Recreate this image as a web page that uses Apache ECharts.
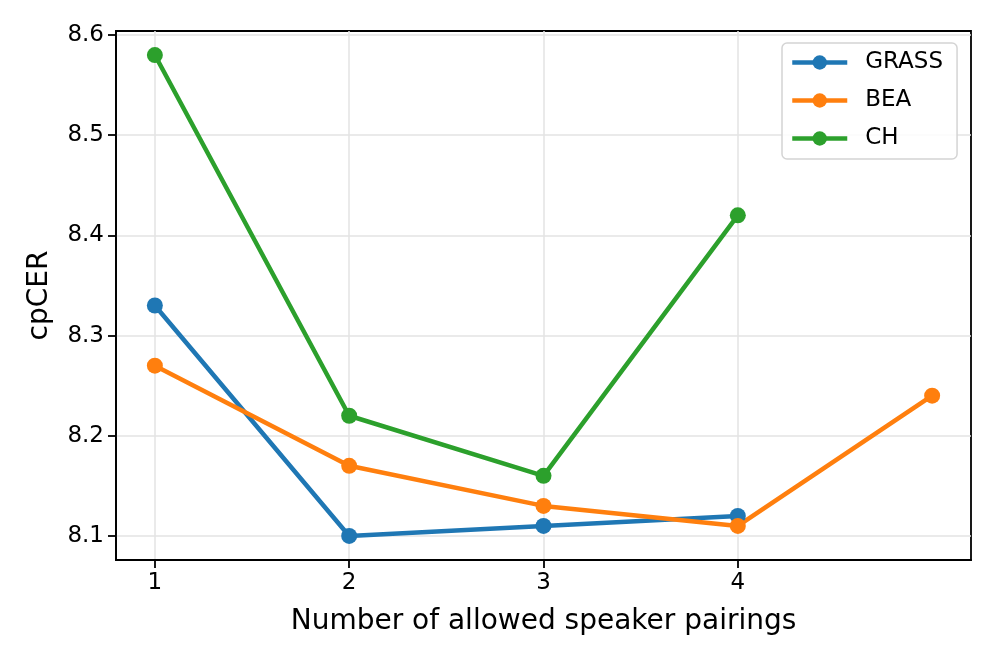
<!DOCTYPE html>
<html>
<head>
<meta charset="utf-8">
<script src="https://cdn.jsdelivr.net/npm/echarts@6/dist/echarts.min.js"></script>
<style>
  html, body { margin: 0; padding: 0; background: #fff; }
  #chart { width: 996px; height: 664px; }
</style>
</head>
<body>
<div id="chart"></div>
<script>
const pairings = [1, 2, 3, 4, 5]
const xTicks = [1, 2, 3, 4]
const yTicks = [8.1, 8.2, 8.3, 8.4, 8.5, 8.6]

const grass = [8.33, 8.10, 8.11, 8.12]
const bea = [8.27, 8.17, 8.13, 8.11, 8.24]
const ch = [8.58, 8.22, 8.16, 8.42]

const font = 'DejaVu Sans'

function makeSeries(name, values, color) {
  return {
    name,
    type: 'line',
    data: values.map((v, i) => [pairings[i], v]),
    symbol: 'circle',
    symbolSize: 16,
    lineStyle: { width: 4.5, color },
    itemStyle: { color },
    emphasis: { disabled: true },
  }
}

const chart = echarts.init(document.getElementById('chart'))

chart.setOption({
  animation: false,
  backgroundColor: '#fff',
  grid: {
    left: 116,
    right: 25,
    top: 31,
    bottom: 104,
    show: true,
    borderColor: '#000',
    borderWidth: 1.8,
    containLabel: false,
  },
  legend: {
    orient: 'vertical',
    left: 782,
    top: 43,
    itemWidth: 55,
    itemHeight: 18,
    itemGap: 15,
    padding: [8, 14, 9, 8],
    backgroundColor: 'rgba(255,255,255,0.85)',
    borderColor: '#d4d4d4',
    borderWidth: 1.5,
    borderRadius: 5,
    lineStyle: { width: 4.5 },
    itemStyle: { borderWidth: 0 },
    textStyle: {
      fontFamily: font,
      fontSize: 23,
      color: '#000',
      lineHeight: 23,
      padding: [0, 0, 0, 13],
    },
    data: ['GRASS', 'BEA', 'CH'],
  },
  xAxis: {
    type: 'value',
    min: 0.8,
    max: 5.2,
    name: 'Number of allowed speaker pairings',
    nameLocation: 'middle',
    nameGap: 48,
    nameTextStyle: { fontFamily: font, fontSize: 28, color: '#000' },
    axisLine: { show: true, onZero: false, lineStyle: { color: '#000', width: 1.8 } },
    axisTick: { show: true, customValues: xTicks, length: 8, lineStyle: { color: '#000', width: 1.8 } },
    axisLabel: { customValues: xTicks, fontFamily: font, fontSize: 23, color: '#000', margin: 12 },
    splitLine: { show: true, lineStyle: { color: '#e3e3e3', width: 1.5 } },
  },
  yAxis: {
    type: 'value',
    min: 8.076,
    max: 8.604,
    name: 'cpCER',
    nameLocation: 'middle',
    nameGap: 62,
    nameTextStyle: { fontFamily: font, fontSize: 28, color: '#000' },
    axisLine: { show: true, onZero: false, lineStyle: { color: '#000', width: 1.8 } },
    axisTick: { show: true, customValues: yTicks, length: 8, lineStyle: { color: '#000', width: 1.8 } },
    axisLabel: {
      customValues: yTicks,
      fontFamily: font,
      fontSize: 23,
      color: '#000',
      margin: 12,
      formatter: (v) => v.toFixed(1),
    },
    splitLine: { show: true, lineStyle: { color: '#e3e3e3', width: 1.5 } },
  },
  series: [
    makeSeries('GRASS', grass, '#1f77b4'),
    makeSeries('BEA', bea, '#ff7f0e'),
    makeSeries('CH', ch, '#2ca02c'),
  ],
})
</script>
</body>
</html>
